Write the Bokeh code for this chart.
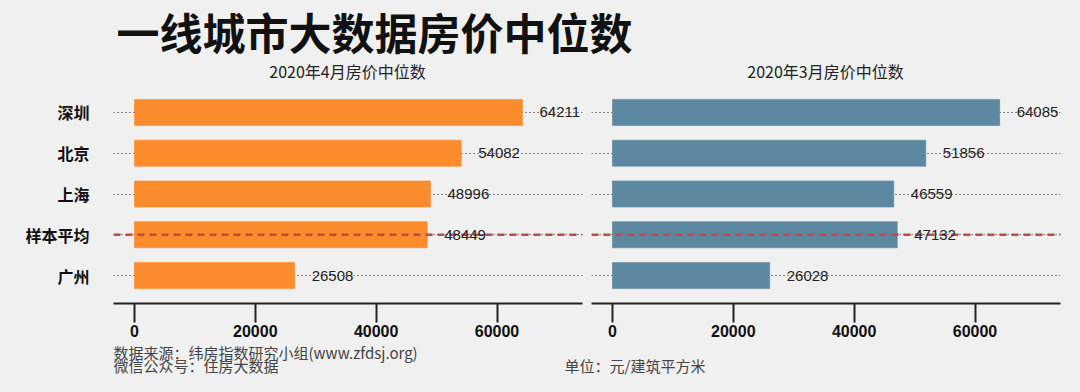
from bokeh.plotting import figure
from bokeh.models import Label, FactorRange, Range1d, FixedTicker, ColumnDataSource
from bokeh.layouts import column, row
from bokeh.core.properties import value
from bokeh.embed import file_html
from bokeh.resources import INLINE

# ---- data ----
cities = ["深圳", "北京", "上海", "样本平均", "广州"]
apr_values = [64211, 54082, 48996, 48449, 26508]
mar_values = [64085, 51856, 46559, 47132, 26028]
x_ticks = [0, 20000, 40000, 60000]
avg_city = "样本平均"
main_title = "一线城市大数据房价中位数"
apr_title = "2020年4月房价中位数"
mar_title = "2020年3月房价中位数"
source_line1 = "数据来源：纬房指数研究小组(www.zfdsj.org)"
source_line2 = "微信公众号：住房大数据"
unit_line = "单位：元/建筑平方米"

# ---- style ----
BG = "#f0f0f0"
CJK = "Noto Sans CJK SC"
XMIN, XMAX = -3470, 74150
ORANGE = "#FB8B2C"
BLUE = "#5C89A1"
RED = "#BE4B4B"


def base_fig(width, height, **kw):
    f = figure(width=width, height=height, output_backend="svg", toolbar_location=None, **kw)
    f.background_fill_color = BG
    f.border_fill_color = BG
    f.outline_line_color = None
    return f


def blank_fig(width, height):
    f = base_fig(width, height, x_range=Range1d(0, 1), y_range=Range1d(0, 1))
    f.axis.visible = False
    f.grid.visible = False
    f.min_border = 0
    return f


def panel(values, color, width, mb_left, mb_right, show_y):
    y_range = FactorRange(factors=list(reversed(cities)), range_padding=0.186,
                          range_padding_units="absolute")
    kw = {} if show_y else {"y_axis_location": None}
    p = base_fig(width, 258, x_range=Range1d(XMIN, XMAX), y_range=y_range, **kw)
    p.min_border_left = mb_left
    p.min_border_right = mb_right
    p.min_border_top = 0
    p.min_border_bottom = 39

    src = ColumnDataSource(dict(c=cities, v=values, t=[str(v) for v in values]))
    p.hbar(y="c", right="v", left=0, height=0.64, source=src, fill_color=color,
           line_color=color, line_alpha=0.6)
    p.segment(x0=[XMIN], x1=[XMAX], y0=[avg_city], y1=[avg_city], line_color=RED,
              line_width=2.5, line_dash="7 5")
    p.text(x="v", y="c", text="t", source=src, x_offset=17, text_align="left",
           text_baseline="middle", text_font=value("Liberation Sans"),
           text_font_size="15px", text_color="#222222")

    # dotted row guides
    p.xgrid.grid_line_color = None
    p.ygrid.grid_line_color = "#111111"
    p.ygrid.grid_line_dash = "1 3"
    p.ygrid.grid_line_width = 1.2

    xa = p.xaxis[0]
    xa.ticker = FixedTicker(ticks=x_ticks)
    xa.axis_line_width = 2
    xa.axis_line_color = "#222222"
    xa.major_tick_in = 0
    xa.major_tick_out = 19
    xa.major_tick_line_width = 2
    xa.major_tick_line_color = "#222222"
    xa.minor_tick_line_color = None
    xa.major_label_standoff = 2
    xa.major_label_text_font = "Liberation Sans"
    xa.major_label_text_font_style = "bold"
    xa.major_label_text_font_size = "16px"
    xa.major_label_text_color = "#111111"

    if show_y:
        ya = p.yaxis[0]
        ya.axis_line_color = None
        ya.major_tick_line_color = None
        ya.major_tick_out = 0
        ya.major_tick_in = 0
        ya.minor_tick_line_color = None
        ya.major_label_standoff = 24
        ya.major_label_text_font = CJK
        ya.major_label_text_font_style = "bold"
        ya.major_label_text_font_size = "16px"
        ya.major_label_text_color = "#111111"
    return p


left = panel(apr_values, ORANGE, 588, 113, 6, True)
right = panel(mar_values, BLUE, 492, 3, 20, False)

# title figure (main title + panel titles)
top = blank_fig(1080, 84)
top.add_layout(Label(x=116, y=54, x_units="screen", y_units="screen", text=main_title,
                     text_align="left", text_baseline="middle", text_font=CJK,
                     text_font_style="bold", text_font_size="43px", text_color="#111111"))
for txt, x in [(apr_title, 347), (mar_title, 825)]:
    top.add_layout(Label(x=x, y=13.5, x_units="screen", y_units="screen", text=txt,
                         text_align="center", text_baseline="middle", text_font=CJK,
                         text_font_size="16px", text_color="#222222"))

# footer figure
bottom = blank_fig(1080, 50)
for txt, x, y in [(source_line1, 113, 40), (source_line2, 113, 27), (unit_line, 564, 27)]:
    bottom.add_layout(Label(x=x, y=y, x_units="screen", y_units="screen", text=txt,
                            text_align="left", text_baseline="middle", text_font=CJK,
                            text_font_size="15px", text_color="#444444"))

layout = column(top, row(left, right, spacing=0), bottom, spacing=0)
html = file_html(layout, INLINE)
html = html.replace("</head>", "<style>html, body { background: #f0f0f0; }</style></head>", 1)
open("out.html", "w").write(html)
